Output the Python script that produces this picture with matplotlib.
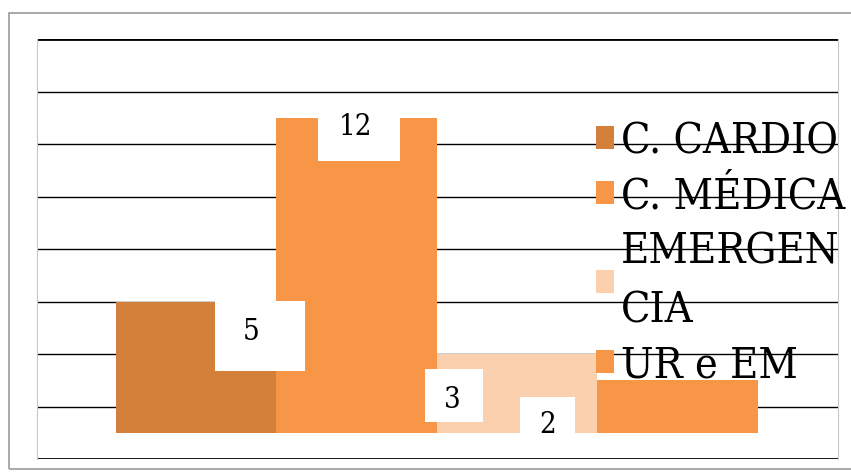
import matplotlib
matplotlib.use("Agg")
import matplotlib.pyplot as plt
from matplotlib.patches import Rectangle

categories = ["C. CARDIO", "C. MÉDICA", "EMERGEN\nCIA", "UR e EM"]
values = [5, 12, 3, 2]
colors = ["#D4803A", "#F79646", "#FAD0AE", "#F79646"]
gridlines = [-1, 1, 3, 5, 7, 9, 11, 13, 15]

W, H = 851, 477
fig = plt.figure(figsize=(W / 100, H / 100), dpi=100)
fig.patches.append(Rectangle((9 / W, 1 - 470 / H), 1, (470 - 14) / H, transform=fig.transFigure,
                             fill=False, edgecolor="#9a9a9a", lw=1.2))
ax = fig.add_axes([37 / W, 1 - 460 / H, (838 - 37) / W, (460 - 40) / H])
ax.set_xlim(-0.99, 4.0)
ax.set_ylim(-1, 15)
for s in ["top", "bottom"]:
    ax.spines[s].set_visible(False)
for s in ["left", "right"]:
    ax.spines[s].set_color("#c8c8c8")
    ax.spines[s].set_linewidth(0.8)
ax.set_xticks([])
ax.set_yticks([])
for g in gridlines:
    lw = 2.0 if g in (gridlines[0], gridlines[-1]) else 1.0
    ax.axhline(g, color="black", lw=lw, zorder=1)

bars = []
for i, (v, c, lab) in enumerate(zip(values, colors, categories)):
    b = ax.bar(i, v, width=1.0, color=c, label=lab, zorder=2)
    bars.append(b)

font = {"family": "DejaVu Serif", "stretch": "condensed"}
fs_lab = 21
box_px = [(215, 305, 302, 372), (318, 400, 95, 162), (425, 483, 370, 423), (520, 575, 398, 440)]
text_px = [(251, 332), (355, 127), (452, 400), (548, 425)]
inv = ax.transData.inverted()
for i, v in enumerate(values):
    x0, x1, y0, y1 = box_px[i]
    (dx0, dy1) = inv.transform((x0, H - y0))
    (dx1, dy0) = inv.transform((x1, H - y1))
    ax.add_patch(Rectangle((dx0, dy0), dx1 - dx0, dy1 - dy0, facecolor="white",
                           edgecolor="none", zorder=3, clip_on=False))
    tx, ty = inv.transform((text_px[i][0], H - text_px[i][1]))
    ax.text(tx, ty, str(v), ha="center", va="center", fontsize=fs_lab, zorder=4, **font)

leg = ax.legend(handles=[b[0] for b in bars], labels=categories, loc="upper left",
                bbox_to_anchor=(596 / W, 1 - 121 / H), bbox_transform=fig.transFigure,
                frameon=False, prop={**font, "size": 31},
                handlelength=0.42, handleheight=0.42, handletextpad=0.15,
                labelspacing=0.3, borderpad=0, borderaxespad=0)
for t in leg.get_texts():
    t.set_linespacing(1.52)
leg.set_zorder(5)
fig.savefig("out.png", dpi=100)
